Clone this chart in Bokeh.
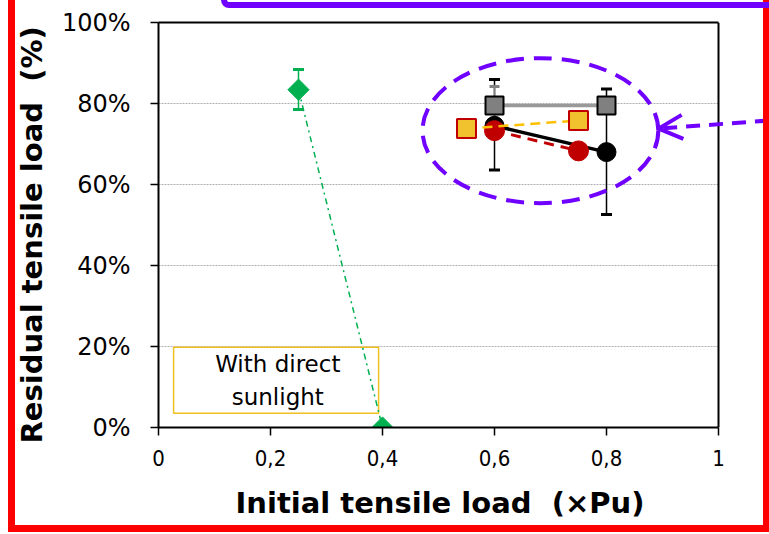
import math
from bokeh.plotting import figure
from bokeh.models import (ColumnDataSource, Whisker, TeeHead, Arrow, OpenHead,
                          BoxAnnotation, Label, FixedTicker, PrintfTickFormatter,
                          Range1d, Span, LinearAxis, Grid, InlineStyleSheet, Title)
from bokeh.embed import file_html
from bokeh.resources import INLINE

# ---------------- data ----------------
green_x = [0.25, 0.40]
green_y = [83.4, 0.0]
green_err_x = [0.25]
green_err_lo = [78.5]
green_err_hi = [88.4]

gray_x = [0.6, 0.8]
gray_y = [79.5, 79.5]
gray_err_x = [0.6]
gray_err_lo = [75.1]
gray_err_hi = [84.2]

black_x = [0.6, 0.8]
black_y = [74.5, 68.0]
black_err_x = [0.6, 0.8]
black_err_lo = [63.6, 52.6]
black_err_hi = [85.9, 83.6]

red_x = [0.6, 0.75]
red_y = [73.3, 68.3]

yellow_x = [0.55, 0.75]
yellow_y = [73.8, 75.8]

x_ticks = [0, 0.2, 0.4, 0.6, 0.8, 1.0]
x_tick_labels = ["0", "0,2", "0,4", "0,6", "0,8", "1"]
y_ticks = [0, 20, 40, 60, 80, 100]
y_grid = [20, 40, 60, 80]

x_title = "Initial tensile load \u00a0(\u00d7Pu)"
y_title = "Residual tensile load \u00a0(%)"
note_text = "With direct\nsunlight"

GREEN = "#00B050"
RED = "#C00000"
YELLOW = "#FFC000"
GRAY = "#808080"
PURPLE = "#7000FF"

X_MAX = 1.0         # end of the drawn axis
X_VIEW = 611 / 560  # frame extends to the right edge of the page

# ---------------- figure ----------------
p = figure(width=769, height=534, frame_width=611, frame_height=405,
           min_border_left=158, min_border_right=0, min_border_top=22,
           min_border_bottom=107,
           x_range=Range1d(0, X_VIEW), y_range=Range1d(0, 100),
           output_backend="svg", toolbar_location=None)
p.background_fill_color = "white"
p.border_fill_color = "white"
p.outline_line_color = None

# axes
p.xaxis.ticker = FixedTicker(ticks=x_ticks)
p.xaxis.bounds = (0, X_MAX)
p.xaxis.major_label_overrides = {t: l for t, l in zip(x_ticks, x_tick_labels)}
p.yaxis.ticker = FixedTicker(ticks=y_ticks)
p.yaxis.formatter = PrintfTickFormatter(format="%d%%")
for ax in (p.xaxis, p.yaxis):
    ax.axis_line_color = "black"
    ax.axis_line_width = 2
    ax.major_tick_line_color = "black"
    ax.major_tick_line_width = 1.5
    ax.major_tick_in = 0
    ax.major_tick_out = 8
    ax.minor_tick_line_color = None
    ax.major_label_text_color = "black"

p.xaxis.major_label_text_font = "DejaVu Sans Condensed, Liberation Sans"
p.xaxis.major_label_text_font_size = "22px"
p.xaxis.major_label_standoff = 14

p.yaxis.major_label_text_font = "DejaVu Sans"
p.yaxis.major_label_text_font_size = "24px"
p.yaxis.major_label_standoff = 20

# axis titles (placed on the drawn 0..1 part of the plot)
p.add_layout(Title(text=x_title, align="left", offset=77, standoff=30,
                   text_font="DejaVu Sans", text_font_size="29px",
                   text_font_style="bold", text_color="black"), "below")
p.add_layout(Title(text=y_title, align="left", offset=-16, standoff=20,
                   text_font="DejaVu Sans", text_font_size="29px",
                   text_font_style="bold", text_color="black"), "left")

# top border of the plot area (axis line only)
top_axis = LinearAxis(bounds=(0, X_MAX), ticker=FixedTicker(ticks=[]),
                      major_tick_in=0, major_tick_out=0,
                      axis_line_color="black", axis_line_width=2,
                      major_tick_line_color=None, minor_tick_line_color=None)
p.add_layout(top_axis, "above")
p.add_layout(Span(location=X_MAX, dimension="height", line_color="black",
                  line_width=2))

p.xgrid.grid_line_color = None
p.ygrid.ticker = FixedTicker(ticks=y_grid)
p.ygrid.grid_line_color = "#B0B0B0"
p.ygrid.grid_line_dash = "2 1"
p.ygrid.grid_line_width = 1
if "cross_bounds" in Grid.properties():
    p.ygrid.cross_bounds = (0, X_MAX)
else:
    p.add_layout(BoxAnnotation(left=X_MAX, right=X_VIEW, fill_color="white",
                               fill_alpha=1, line_alpha=0, level="underlay"))

# note box
p.add_layout(BoxAnnotation(left=0.027, right=0.393, bottom=3.5, top=19.8,
                           fill_color="white", fill_alpha=1.0,
                           line_color="#F0C020", line_alpha=1.0, line_width=1.5,
                           level="underlay"))
p.add_layout(Label(x=0.213, y=11.6, text=note_text, text_align="center",
                   text_baseline="middle", text_font="DejaVu Sans",
                   text_font_size="23px", text_color="black",
                   text_line_height=1.3))

# ---------------- series ----------------
# green
p.line(green_x, green_y, line_color=GREEN, line_width=1.5, line_dash="dashdot")
gsrc = ColumnDataSource(dict(x=green_err_x, lo=green_err_lo, hi=green_err_hi))
p.add_layout(Whisker(source=gsrc, base="x", lower="lo", upper="hi",
                     line_color=GREEN, line_width=1.5,
                     upper_head=TeeHead(size=11, line_color=GREEN, line_width=3),
                     lower_head=TeeHead(size=11, line_color=GREEN, line_width=3),
                     level="glyph"))
p.scatter(green_x, green_y, marker="square", angle=math.pi / 4, size=15,
          fill_color=GREEN, line_color=GREEN)

# black
bsrc = ColumnDataSource(dict(x=black_err_x, lo=black_err_lo, hi=black_err_hi))
p.add_layout(Whisker(source=bsrc, base="x", lower="lo", upper="hi",
                     line_color="black", line_width=1.5,
                     upper_head=TeeHead(size=11, line_color="black", line_width=3),
                     lower_head=TeeHead(size=11, line_color="black", line_width=3),
                     level="underlay"))
p.line(black_x, black_y, line_color="black", line_width=3.5)
p.scatter(black_x, black_y, marker="circle", size=19, fill_color="black",
          line_color="black")

# red
p.line(red_x, red_y, line_color=RED, line_width=3, line_dash="10 7")
p.scatter(red_x, red_y, marker="circle", size=20, fill_color=RED, line_color=RED)

# gray
p.line(gray_x, gray_y, line_color="#999999", line_width=3.5)
grsrc = ColumnDataSource(dict(x=gray_err_x, lo=gray_err_lo, hi=gray_err_hi))
p.add_layout(Whisker(source=grsrc, base="x", lower="lo", upper="hi",
                     line_color=GRAY, line_width=1.5,
                     upper_head=TeeHead(size=10, line_color=GRAY, line_width=3),
                     lower_head=TeeHead(size=10, line_color=GRAY, line_width=3)))
p.scatter(gray_x, gray_y, marker="square", size=18, fill_color=GRAY,
          line_color="black", line_width=2)

# yellow
p.line(yellow_x, yellow_y, line_color=YELLOW, line_width=2.5, line_dash="10 6")
p.scatter(yellow_x, yellow_y, marker="square", size=19, fill_color="#F2C12E",
          line_color=RED, line_width=2)

# ---------------- highlight ellipse + arrow ----------------
p.ellipse(x=0.682, y=73.3, width=0.421, height=35.8, fill_color=None,
          line_color=PURPLE, line_width=4, line_dash="18 10")
p.add_layout(Arrow(x_start=1.09, y_start=75.8, x_end=0.893, y_end=73.8,
                   line_color=PURPLE, line_width=4, line_dash="14 9",
                   end=OpenHead(size=24, line_color=PURPLE, line_width=4)))

# ---------------- outer decorations (page frame) ----------------
css = """
:host { position: relative; }
:host::before {
  content: ""; position: absolute; box-sizing: border-box;
  left: 8px; top: -40px; right: -1px; bottom: 2px;
  border: 7px solid #FF0000; pointer-events: none; z-index: 50;
}
:host::after {
  content: ""; position: absolute; box-sizing: border-box;
  left: 221px; top: -40px; width: 600px; height: 48px;
  border: 6px solid #7000FF; border-radius: 8px;
  pointer-events: none; z-index: 51;
}
"""
p.stylesheets = [InlineStyleSheet(css=css)]

open("out.html", "w").write(file_html(p, INLINE))
